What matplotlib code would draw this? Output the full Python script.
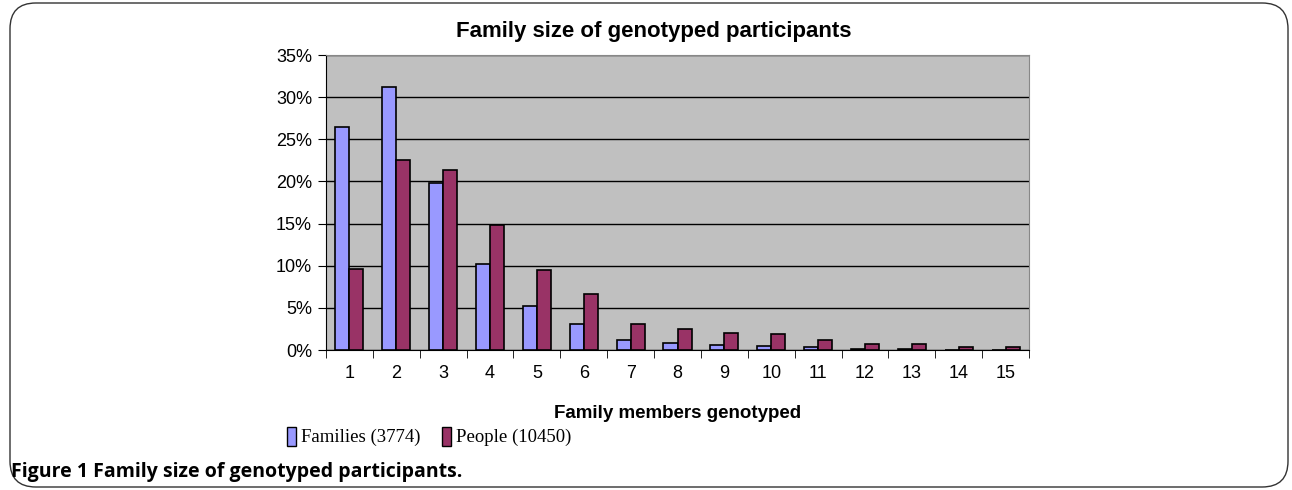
import numpy as np
import matplotlib
matplotlib.use("Agg")
import matplotlib.pyplot as plt
from matplotlib.patches import FancyBboxPatch, Rectangle
from matplotlib.ticker import PercentFormatter

# ── Data ──────────────────────────────────────────────────
members  = list(range(1, 16))
families = [26.5, 31.2, 19.8, 10.2, 5.2, 3.1, 1.2, 0.8, 0.6, 0.5, 0.3, 0.15, 0.15, 0.05, 0.05]
people   = [9.6, 22.5, 21.4, 14.8, 9.5, 6.7, 3.1, 2.5, 2.0, 1.9, 1.2, 0.7, 0.7, 0.3, 0.3]
labels   = ["Families (3774)", "People (10450)"]

fam_color = "#9999FF"
ppl_color = "#993366"

fig = plt.figure(figsize=(12.92, 4.9), dpi=100)

# outer rounded frame
frame = FancyBboxPatch((10 / 1292, 3 / 490), 1278 / 1292, 484 / 490,
                       boxstyle="round,pad=0,rounding_size=0.02",
                       transform=fig.transFigure, fill=False,
                       edgecolor="#333333", linewidth=1.0,
                       mutation_aspect=1292 / 490)
fig.patches.append(frame)

ax = fig.add_axes([326 / 1292, 1 - 350 / 490, 703 / 1292, 295 / 490])
ax.set_facecolor("#C0C0C0")

x = np.arange(len(members))
w = 0.3
ax.bar(x - w / 2, families, width=w, color=fam_color, edgecolor="black", linewidth=1.2, zorder=3)
ax.bar(x + w / 2, people, width=w, color=ppl_color, edgecolor="black", linewidth=1.2, zorder=3)

ax.set_xlim(-0.5, len(members) - 0.5)
ax.set_ylim(0, 35)
ax.set_yticks(np.arange(0, 36, 5))
ax.yaxis.set_major_formatter(PercentFormatter(decimals=0))
ax.grid(axis="y", color="black", linewidth=1.0, zorder=1)

ax.set_xticks(x)
ax.set_xticklabels([str(m) for m in members])
ax.set_xticks(np.arange(-0.5, len(members), 1), minor=True)
ax.tick_params(axis="x", which="major", length=0, pad=11, labelsize=13)
ax.tick_params(axis="x", which="minor", length=6, direction="out", color="black")
ax.tick_params(axis="y", length=6, direction="out", labelsize=13, pad=4)

for lab in ax.get_xticklabels() + ax.get_yticklabels():
    lab.set_fontfamily("Liberation Sans")

for side in ["top", "right"]:
    ax.spines[side].set_color("#888888")
    ax.spines[side].set_linewidth(0.8)
ax.spines["left"].set_color("black")
ax.spines["bottom"].set_color("black")

ax.set_xlabel("Family members genotyped", fontsize=13.5, fontweight="bold",
              family="Liberation Sans", labelpad=16)
fig.text(654 / 1292, 1 - 32 / 490, "Family size of genotyped participants",
         ha="center", va="center", fontsize=16, fontweight="bold",
         family="Liberation Sans")

# legend, drawn by hand to keep the tall narrow swatches
leg_y = 1 - 437 / 490
for lab, col, x0 in zip(labels, [fam_color, ppl_color], [287, 442]):
    fig.patches.append(Rectangle((x0 / 1292, leg_y - 9 / 490), 9 / 1292, 19 / 490,
                                 transform=fig.transFigure, facecolor=col,
                                 edgecolor="black", linewidth=1.0))
    fig.text((x0 + 14) / 1292, leg_y, lab, ha="left", va="center",
             fontsize=13.5, family="Liberation Serif")

fig.text(11 / 1292, 1 - 472 / 490, "Figure 1 Family size of genotyped participants.",
         ha="left", va="center", fontsize=14, fontweight="bold", family="Open Sans")

fig.savefig("out.png", dpi=100)
